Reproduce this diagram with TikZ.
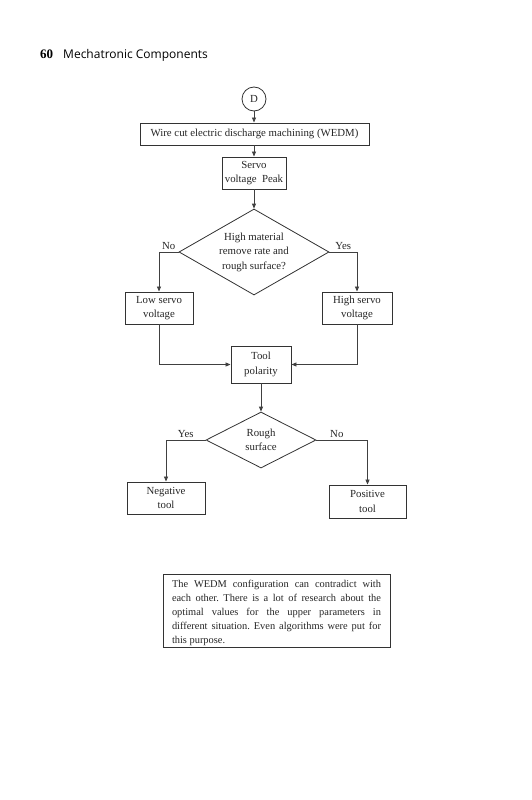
\documentclass[tikz,border=0pt]{standalone}
\usepackage{fontspec}
\setmainfont{Liberation Serif}
\newfontfamily\headsans{Open Sans}
\usetikzlibrary{shapes.geometric,arrows.meta}
\begin{document}
\begin{tikzpicture}[x=1pt,y=-1pt,
  every node/.style={font=\fontsize{10.8}{14.5}\selectfont, text=black!85},
  box/.style={draw=black!80, line width=0.9pt, align=center, inner sep=0pt},
  dec/.style={draw=black!80, line width=0.8pt, diamond, inner sep=0pt},
  arr/.style={draw=black!75, line width=0.8pt, -{Triangle[length=5pt,width=4pt]}},
  lbl/.style={above, inner sep=2pt}]
\fill[white] (0,0) rectangle (531,800);
\useasboundingbox (0,0) rectangle (531,800);
% header
\node[anchor=base west, inner sep=0pt, font=\fontsize{13}{15}\selectfont\bfseries, text=black] (pg) at (40,59) {60};
\node[anchor=base west, inner sep=0pt, font=\fontsize{12}{14}\selectfont\headsans, text=black] (ttl) at (63,59) {Mechatronic Components};
% nodes
\node[draw=black!80, line width=0.8pt, circle, minimum size=24pt, inner sep=0pt] (D) at (254,99) {D};
\node[box, minimum width=229pt, minimum height=22pt] (wedm) at (254.5,134) {Wire cut electric discharge machining (WEDM)};
\node[box, minimum width=64pt, minimum height=32pt] (servo) at (254,173) {Servo\\voltage\ \ Peak};
\node[dec, minimum width=150pt, minimum height=86pt,
  label={[align=center, inner sep=0pt]center:High material\\remove rate and\\rough surface?}] (d1) at (254,252) {};
\node[box, minimum width=68pt, minimum height=32pt] (low) at (159,308) {Low servo\\voltage};
\node[box, minimum width=70pt, minimum height=32pt] (high) at (357,308) {High servo\\voltage};
\node[box, minimum width=60pt, minimum height=37pt] (tool) at (261,364.5) {Tool\\polarity};
\node[dec, minimum width=110pt, minimum height=56pt,
  label={[align=center, inner sep=0pt]center:Rough\\surface}] (d2) at (261,440) {};
\node[box, minimum width=78pt, minimum height=32pt] (neg) at (166,498) {Negative\\tool};
\node[box, minimum width=77pt, minimum height=33pt] (pos) at (367.5,501.5) {Positive\\tool};
\node[box, text width=209pt, align=justify, inner xsep=9pt, inner ysep=0.5pt, minimum height=73pt, font=\fontsize{10.4}{14}\selectfont\frenchspacing] (note) at (276.5,610.5)
 {\rule{0pt}{12pt}The WEDM configuration can contradict with\linebreak
  each other. There is a lot of research about the\linebreak
  optimal values for the upper parameters in\linebreak
  different situation. Even algorithms were put for\linebreak
  this purpose.};
% connectors
\draw[arr] (D.south) -- (D.south |- wedm.north);
\draw[arr] (wedm.south -| servo.north) -- (servo.north);
\draw[arr] (servo.south) -- (d1.north);
\draw[arr] (d1.west) -| node[lbl, pos=0.25] {No} (low.north);
\draw[arr] (d1.east) -| node[lbl, pos=0.25] {Yes} (high.north);
\draw[arr] (low.south) |- (tool.west);
\draw[arr] (high.south) |- (tool.east);
\draw[arr] (tool.south) -- (d2.north);
\draw[arr] (d2.west) -| node[lbl, pos=0.25] {Yes} (neg.north);
\draw[arr] (d2.east) -| node[lbl, pos=0.2] {No} (pos.north);
\end{tikzpicture}
\end{document}
